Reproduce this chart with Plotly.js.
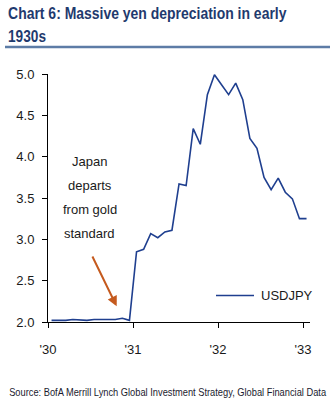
<!DOCTYPE html>
<html>
<head>
<meta charset="utf-8">
<script src="https://cdn.plot.ly/plotly-3.0.1.min.js"></script>
<style>html,body{margin:0;padding:0;background:#fff;}#chart{width:336px;height:401px;}</style>
</head>
<body>
<div id="chart"></div>
<script>
// Monthly USDJPY, Jan 1930 .. Jan 1933
const months = [
  "1930-01","1930-02","1930-03","1930-04","1930-05","1930-06","1930-07","1930-08","1930-09","1930-10","1930-11","1930-12",
  "1931-01","1931-02","1931-03","1931-04","1931-05","1931-06","1931-07","1931-08","1931-09","1931-10","1931-11","1931-12",
  "1932-01","1932-02","1932-03","1932-04","1932-05","1932-06","1932-07","1932-08","1932-09","1932-10","1932-11","1932-12",
  "1933-01"
];
const usdjpy = [
  2.02,2.02,2.02,2.03,2.025,2.02,2.03,2.03,2.03,2.03,2.045,2.02,
  2.85,2.88,3.07,3.02,3.09,3.11,3.67,3.65,4.34,4.15,4.75,4.99,
  4.87,4.75,4.89,4.69,4.22,4.10,3.75,3.60,3.74,3.57,3.49,3.25,
  3.25
];
const seriesName = "USDJPY";
const tickVals = [1930,1931,1932,1933];
const tickText = ["'30","'31","'32","'33"];
const titleLines = ["Chart 6: Massive yen depreciation in early", "1930s"];
const annotationLines = ["Japan","departs","from gold","standard"];
const sourceText = "Source: BofA Merrill Lynch Global Investment Strategy, Global Financial Data";

// month -> decimal year at mid-month
const xs = months.map(m => { const [y, mo] = m.split("-").map(Number); return y + (mo - 0.5) / 12; });

const sans = "'Liberation Sans', Arial, sans-serif";
const L = 48, T = 74, W = 262, H = 248;           // plot area in pixels
const px = p => (p - L) / W;                        // pixel -> paper x
const py = p => (T + H - p) / H;                    // pixel -> paper y

const annots = [];
titleLines.forEach((t, i) => annots.push({
  text: '<b>' + t + '</b>', xref: 'paper', yref: 'paper', x: px(6), y: py(13.5 + i * 23),
  xanchor: 'left', yanchor: 'middle', showarrow: false,
  font: {family: sans, size: 17, color: '#1F3A6E'}
}));
annotationLines.forEach((t, i) => annots.push({
  text: t, xref: 'x', x: 1930.494, yref: 'paper', y: py(161 + i * 24),
  showarrow: false, font: {family: sans, size: 13, color: '#1a1a1a'},
  xanchor: 'center', yanchor: 'middle'
}));
annots.push({
  x: 1930.808, y: 2.19, xref: 'x', yref: 'y',
  ax: 1930.514, ay: 2.81, axref: 'x', ayref: 'y',
  showarrow: true, arrowhead: 2, arrowsize: 1, arrowwidth: 2, arrowcolor: '#C55A1E', text: ''
});
annots.push({
  text: sourceText, xref: 'paper', yref: 'paper', x: px(6.5), y: py(392),
  xanchor: 'left', yanchor: 'middle', showarrow: false,
  font: {family: sans, size: 11, color: '#1a1a2e'}
});
// legend label
annots.push({
  text: seriesName, xref: 'paper', yref: 'paper', x: px(259), y: py(295.5),
  xanchor: 'left', yanchor: 'middle', showarrow: false,
  font: {family: sans, size: 13, color: '#1a1a1a'}
});

const data = [{
  x: xs, y: usdjpy, type: 'scatter', mode: 'lines', name: seriesName,
  line: {color: '#1F3F8F', width: 1.6}, showlegend: false
}];

const layout = {
  width: 336, height: 401,
  margin: {l: L, r: 336 - L - W, t: T, b: 401 - T - H},
  paper_bgcolor: '#fff', plot_bgcolor: '#fff',
  xaxis: {
    range: [1930, 1933 + (310 - 303) / 85 + 0.0], showgrid: false, zeroline: false,
    showline: true, linecolor: '#000', linewidth: 1,
    tickvals: tickVals, ticktext: tickText, ticks: 'outside', ticklen: 5, tickcolor: '#000',
    tickfont: {family: sans, size: 13, color: '#1a1a1a'}, ticklabelstandoff: 10
  },
  yaxis: {
    range: [2, 5], dtick: 0.5, tickformat: '.1f', showgrid: false, zeroline: false,
    showline: true, linecolor: '#000', linewidth: 1,
    ticks: 'outside', ticklen: 5, tickcolor: '#000',
    tickfont: {family: sans, size: 13, color: '#1a1a1a'}, ticklabelstandoff: 5
  },
  showlegend: false,
  shapes: [
    { type: 'line', xref: 'paper', yref: 'paper',
      x0: px(5), x1: px(330), y0: py(47), y1: py(47),
      line: {color: '#5D7CA6', width: 2.5} },
    { type: 'line', xref: 'paper', yref: 'paper',
      x0: px(216), x1: px(254), y0: py(295.5), y1: py(295.5),
      line: {color: '#1F3F8F', width: 1.6} }
  ],
  annotations: annots
};

// horizontally condense a text element (narrow-font look) to a target width, keeping its left edge
function condense(el, targetWidth) {
  const bb = el.getBBox();
  if (bb.width <= targetWidth) return;
  const s = targetWidth / bb.width;
  const prev = el.getAttribute('transform') || '';
  el.setAttribute('transform', prev + ' translate(' + bb.x + ',0) scale(' + s + ',1) translate(' + (-bb.x) + ',0)');
}

Plotly.newPlot('chart', data, layout, {staticPlot: true, displayModeBar: false}).then(gd => {
  const targets = {};
  targets[titleLines[0]] = 279;
  targets[titleLines[1]] = 38;
  targets[sourceText] = 318;
  gd.querySelectorAll('text.annotation-text').forEach(el => {
    const t = el.textContent;
    if (targets[t] !== undefined) condense(el, targets[t]);
  });
});
</script>
</body>
</html>
